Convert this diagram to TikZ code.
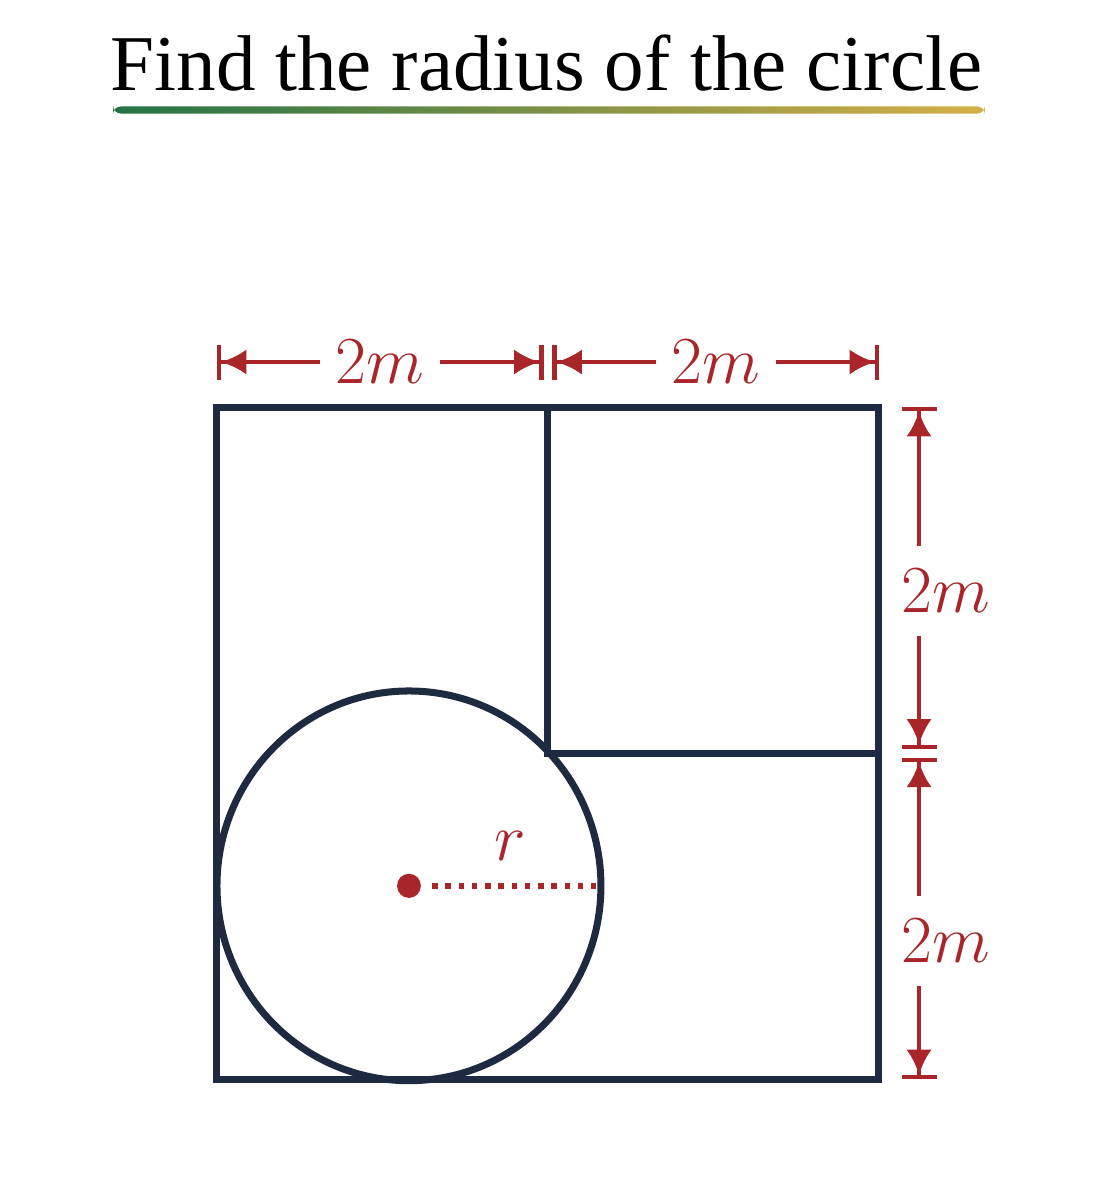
\documentclass[tikz,border=0pt]{standalone}
\usepackage{fontspec}
\setmainfont{Liberation Serif}
\usetikzlibrary{arrows.meta}
\definecolor{navy}{RGB}{30,42,64}
\definecolor{dimred}{RGB}{168,38,42}
\definecolor{ulgreen}{RGB}{35,115,70}
\definecolor{ulgold}{RGB}{215,175,70}
\begin{document}
\begin{tikzpicture}[x=1.4937cm,y=1.5162cm,
        edge/.style={navy, line width=1.8pt},
        dimline/.style={dimred, line width=1.05pt,
            {Bar[width=9pt]Latex[length=6.5pt,width=6.5pt]}-{Latex[length=6.5pt,width=6.5pt]Bar[width=9pt]}},
        dimlabel/.style={dimred, fill=white, inner xsep=1pt, inner ysep=6pt,
            font=\fontsize{16}{18}\selectfont}]
        \useasboundingbox (-1.311,-0.720) rectangle (5.323,6.423);
        \def\rad{1.16}
        % title and underline
        \node (title) at (1.99,6.05) {\fontsize{20.3}{24}\selectfont Find the radius of the circle};
        \shade [left color=ulgreen, right color=ulgold, rounded corners=2pt]
            (-0.628,5.747) rectangle (4.640,5.789);
        % top dimensions
        \coordinate (T1) at (0,4.268);
        \coordinate (T2) at (1.973,4.268);
        \coordinate (T3) at (2.027,4.268);
        \coordinate (T4) at (4,4.268);
        \draw [dimline] (T1) -- node [dimlabel, inner xsep=4pt, inner ysep=1pt] (w1) {$2m$} (T2);
        \draw [dimline] (T3) -- node [dimlabel, inner xsep=4pt, inner ysep=1pt] (w2) {$2m$} (T4);
        % right dimensions
        \coordinate (S1) at (4.242,4);
        \coordinate (S2) at (4.242,1.967);
        \coordinate (S3) at (4.242,1.913);
        \coordinate (S4) at (4.242,0);
        \draw [dimline] (S1) -- (S2);
        \draw [dimline] (S3) -- (S4);
        \node [dimlabel] (h1) at (4.405,2.905) {$2m$};
        \node [dimlabel] (h2) at (4.405,0.821) {$2m$};
        % square and inner lines
        \coordinate (A) at (0,0);
        \coordinate (B) at (4,0);
        \coordinate (C) at (4,4);
        \coordinate (D) at (0,4);
        \coordinate (M) at (2,1.94);
        \coordinate (MT) at (2,4);
        \coordinate (MR) at (4,1.94);
        \coordinate (O) at (\rad,1.15);
        \draw [edge] (A) -- (B) -- (C) -- (D) -- cycle;
        \draw [edge] (MT) -- (M) -- (MR);
        \draw [edge] (O) circle (\rad);
        % radius
        \coordinate (R0) at (\rad+0.14,1.15);
        \coordinate (R) at (2*\rad-0.03,1.15);
        \draw [dimred, line width=1.4pt, dotted] (R0) -- (R);
        \fill [dimred] (O) circle (0.072);
        \node [dimred, font=\fontsize{18}{20}\selectfont] (rlab) at (1.77,1.39) {$r$};
\end{tikzpicture}
\end{document}
